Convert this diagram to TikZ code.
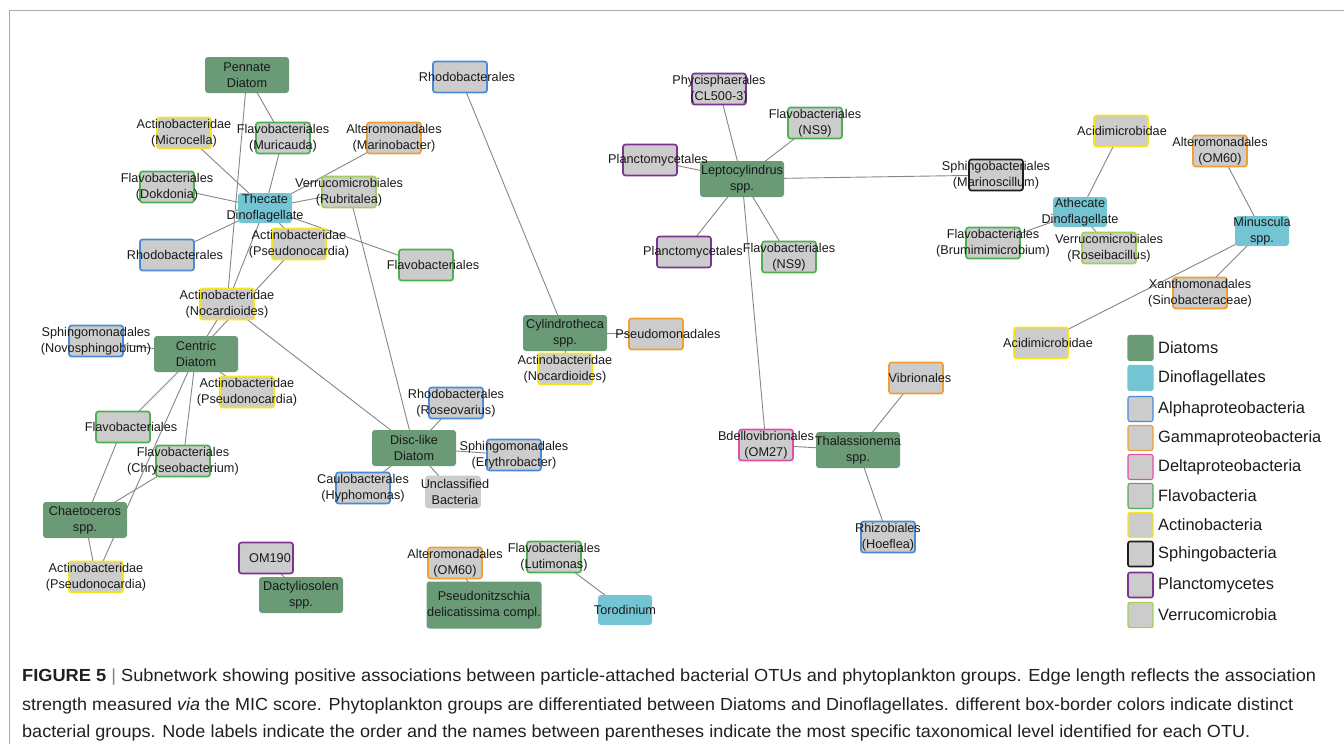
\documentclass[tikz,border=0pt]{standalone}
\usepackage{fontspec}
\setmainfont{Liberation Sans}
\usetikzlibrary{backgrounds}
\definecolor{diatfill}{HTML}{6A9A76}
\definecolor{dinofill}{HTML}{74C5D4}
\definecolor{bactfill}{HTML}{CCCCCC}
\definecolor{cblue}{HTML}{4A8AD6}
\definecolor{corange}{HTML}{F0A032}
\definecolor{cpink}{HTML}{E04EA8}
\definecolor{cgreen}{HTML}{4CB050}
\definecolor{cyellow}{HTML}{F7E51E}
\definecolor{cblack}{HTML}{1E1E1E}
\definecolor{cpurple}{HTML}{7B3492}
\definecolor{clime}{HTML}{A4CF5A}
\definecolor{edgec}{HTML}{858585}
\definecolor{framec}{HTML}{ABABAB}
\definecolor{txt}{HTML}{1A1A1A}
\definecolor{captxt}{HTML}{231F20}
\newcommand\nodefont{\fontsize{12.7}{15.5}\selectfont}
\newcommand\legfont{\fontsize{16.4}{19}\selectfont}
\newcommand\capfont{\fontsize{17.5}{20}\selectfont}
\tikzset{
  bact/.style={draw=#1, fill=bactfill, rounded corners=2.5pt, line width=1.7pt,
    minimum width=54pt, minimum height=31pt, inner sep=0pt},
  diat/.style={fill=diatfill, rounded corners=3pt, minimum width=84pt,
    minimum height=36pt, inner sep=0pt},
  dino/.style={fill=dinofill, rounded corners=3pt, minimum width=54pt,
    minimum height=30pt, inner sep=0pt},
  lab/.style={align=center, font=\nodefont, text=txt, inner sep=0pt},
  edge/.style={draw=edgec, line width=0.9pt},
  legbox/.style={minimum width=25pt, minimum height=25pt, rounded corners=2pt,
    inner sep=0pt, line width=1.1pt, fill=bactfill, draw=#1},
  legtext/.style={anchor=west, font=\legfont, text=txt, inner sep=0pt},
  capline/.style={anchor=base west, font=\capfont, text=captxt, inner sep=0pt},
}
% name, colour, position, text, optional x shift of the text
\newcommand\bactnode[5][0]{\node[bact=#3] (#2) at (#4) {};
  \node[lab, xshift=#1pt] (#2-t) at (#2.center) {#5};}
\newcommand\phytonode[5][]{\node[#3,#1] (#2) at (#4) {};
  \node[lab] (#2-t) at (#2.center) {#5};}

\begin{document}
\begin{tikzpicture}[x=1pt,y=-1pt]
\useasboundingbox (0,0) rectangle (1344,744);
\draw[framec, line width=1.5pt] (9.5,744) -- (9.5,10.5) -- (1344,10.5);

% ---------- phytoplankton ----------
\phytonode{pen}{diat}{247,75}{Pennate\\Diatom}
\phytonode{cen}{diat}{196,354}{Centric\\Diatom}
\phytonode{cha}{diat}{85,520}{Chaetoceros\\spp.}
\phytonode{dac}{diat}{301,595}{Dactyliosolen\\spp.}
\phytonode{dis}{diat}{414,448}{Disc-like\\Diatom}
\phytonode{cyl}{diat}{565,333}{Cylindrotheca\\spp.}
\phytonode[minimum width=115pt, minimum height=47pt]{pse}{diat}{484,605}{Pseudonitzschia\\delicatissima compl.}
\phytonode{lep}{diat}{742,179}{Leptocylindrus\\spp.}
\phytonode{tha}{diat}{858,450}{Thalassionema\\spp.}
\phytonode{the}{dino}{265,208}{Thecate\\Dinoflagellate}
\phytonode{ath}{dino}{1080,212}{Athecate\\Dinoflagellate}
\phytonode{min}{dino}{1262,231}{Minuscula\\spp.}
\phytonode{tor}{dino}{625,610}{Torodinium}

% ---------- bacteria ----------
\bactnode{mic}{cyellow}{184,133}{Actinobacteridae\\(Microcella)}
\bactnode{mur}{cgreen}{283,138}{Flavobacteriales\\(Muricauda)}
\bactnode{mar}{corange}{394,138}{Alteromonadales\\(Marinobacter)}
\bactnode{dok}{cgreen}{167,187}{Flavobacteriales\\(Dokdonia)}
\bactnode{rub}{clime}{349,192}{Verrucomicrobiales\\(Rubritalea)}
\bactnode[8]{rhl}{cblue}{167,255}{Rhodobacterales}
\bactnode{psu}{cyellow}{299,244}{Actinobacteridae\\(Pseudonocardia)}
\bactnode[7]{flr}{cgreen}{426,265}{Flavobacteriales}
\bactnode{noc}{cyellow}{227,304}{Actinobacteridae\\(Nocardioides)}
\bactnode[7]{rht}{cblue}{460,77}{Rhodobacterales}
\bactnode{nov}{cblue}{96,341}{Sphingomonadales\\(Novosphingobium)}
\bactnode{psl}{cyellow}{247,392}{Actinobacteridae\\(Pseudonocardia)}
\bactnode[8]{fll}{cgreen}{123,427}{Flavobacteriales}
\bactnode{chr}{cgreen}{183,461}{Flavobacteriales\\(Chryseobacterium)}
\bactnode{psb}{cyellow}{96,577}{Actinobacteridae\\(Pseudonocardia)}
\bactnode[4]{omn}{cpurple}{266,558}{OM190}
\bactnode{hyp}{cblue}{363,488}{Caulobacterales\\(Hyphomonas)}
\bactnode{ros}{cblue}{456,403}{Rhodobacterales\\(Roseovarius)}
\bactnode{ery}{cblue}{514,455}{Sphingomonadales\\(Erythrobacter)}
\bactnode[2]{unc}{bactfill}{453,492}{Unclassified\\Bacteria}
\bactnode{oma}{corange}{455,563}{Alteromonadales\\(OM60)}
\bactnode{lut}{cgreen}{554,557}{Flavobacteriales\\(Lutimonas)}
\bactnode[12]{psm}{corange}{656,334}{Pseudomonadales}
\bactnode{noz}{cyellow}{565,369}{Actinobacteridae\\(Nocardioides)}
\bactnode{phy}{cpurple}{719,89}{Phycisphaerales\\(CL500-3)}
\bactnode{nsa}{cgreen}{815,123}{Flavobacteriales\\(NS9)}
\bactnode[8]{plt}{cpurple}{650,160}{Planctomycetales}
\bactnode[9]{plb}{cpurple}{684,252}{Planctomycetales}
\bactnode{nsb}{cgreen}{789,257}{Flavobacteriales\\(NS9)}
\bactnode{mrs}{cblack}{996,175}{Sphingobacteriales\\(Marinoscillum)}
\bactnode[1]{aca}{cyellow}{1121,131}{Acidimicrobidae}
\bactnode{omb}{corange}{1220,151}{Alteromonadales\\(OM60)}
\bactnode{bru}{cgreen}{993,243}{Flavobacteriales\\(Brumimimicrobium)}
\bactnode{rsb}{clime}{1109,248}{Verrucomicrobiales\\(Roseibacillus)}
\bactnode{xan}{corange}{1200,293}{Xanthomonadales\\(Sinobacteraceae)}
\bactnode[7]{acb}{cyellow}{1041,343}{Acidimicrobidae}
\bactnode[4]{vib}{corange}{916,378}{Vibrionales}
\bactnode{bde}{cpink}{766,445}{Bdellovibrionales\\(OM27)}
\bactnode{rhi}{cblue}{888,537}{Rhizobiales\\(Hoeflea)}

% ---------- edges ----------
\begin{scope}[on background layer]
\foreach \a/\b in {pen/mur, pen/noc, the/mic, the/mur, the/mar, the/dok, the/rub,
  the/rhl, the/psu, the/flr, the/noc, psu/cen, noc/cen, noc/dis, rub/dis,
  cen/nov, cen/psl, cen/fll, cen/chr, cen/psb, fll/cha, chr/cha, cha/psb,
  omn/dac, dis/ros, dis/ery, dis/hyp, dis/unc, rht/cyl, cyl/psm, cyl/noz,
  oma/pse, lut/tor, lep/phy, lep/nsa, lep/plt, lep/mrs, lep/plb, lep/nsb,
  lep/bde, tha/bde, tha/vib, tha/rhi, ath/aca, ath/bru, ath/rsb,
  min/omb, min/xan, min/acb}
  \draw[edge] (\a.center) -- (\b.center);
\end{scope}

% ---------- legend ----------
\node[legbox=diatfill, fill=diatfill] (lg1) at (1140.5,348) {};
\node[legbox=dinofill, fill=dinofill] (lg2) at (1140.5,378) {};
\node[legbox=cblue] (lg3) at (1140.5,409) {};
\node[legbox=corange] (lg4) at (1140.5,438) {};
\node[legbox=cpink] (lg5) at (1140.5,467) {};
\node[legbox=cgreen] (lg6) at (1140.5,496) {};
\node[legbox=cyellow] (lg7) at (1140.5,525) {};
\node[legbox=cblack, line width=1.6pt] (lg8) at (1140.5,554) {};
\node[legbox=cpurple, line width=1.6pt] (lg9) at (1140.5,585) {};
\node[legbox=clime, line width=1.4pt] (lg10) at (1140.5,615) {};
\node[legtext] (lt1) at (1158,348) {Diatoms};
\node[legtext] (lt2) at (1158,378) {Dinoflagellates};
\node[legtext] (lt3) at (1158,409) {Alphaproteobacteria};
\node[legtext] (lt4) at (1158,438) {Gammaproteobacteria};
\node[legtext] (lt5) at (1158,467) {Deltaproteobacteria};
\node[legtext] (lt6) at (1158,496) {Flavobacteria};
\node[legtext] (lt7) at (1158,525) {Actinobacteria};
\node[legtext] (lt8) at (1158,554) {Sphingobacteria};
\node[legtext] (lt9) at (1158,585) {Planctomycetes};
\node[legtext] (lt10) at (1158,615) {Verrucomicrobia};

% ---------- caption ----------
\node[capline] (cap1) at (22,681) {\resizebox{1294pt}{\height}{\textbf{FIGURE 5} {\color{gray}|} Subnetwork showing positive associations between particle-attached bacterial OTUs and phytoplankton groups. Edge length reflects the association}};
\node[capline] (cap2) at (22,710) {\resizebox{1271pt}{\height}{strength measured \textit{via} the MIC score. Phytoplankton groups are differentiated between Diatoms and Dinoflagellates. different box-border colors indicate distinct}};
\node[capline] (cap3) at (22,737) {\resizebox{1228pt}{\height}{bacterial groups. Node labels indicate the order and the names between parentheses indicate the most specific taxonomical level identified for each OTU.}};
\end{tikzpicture}
\end{document}
